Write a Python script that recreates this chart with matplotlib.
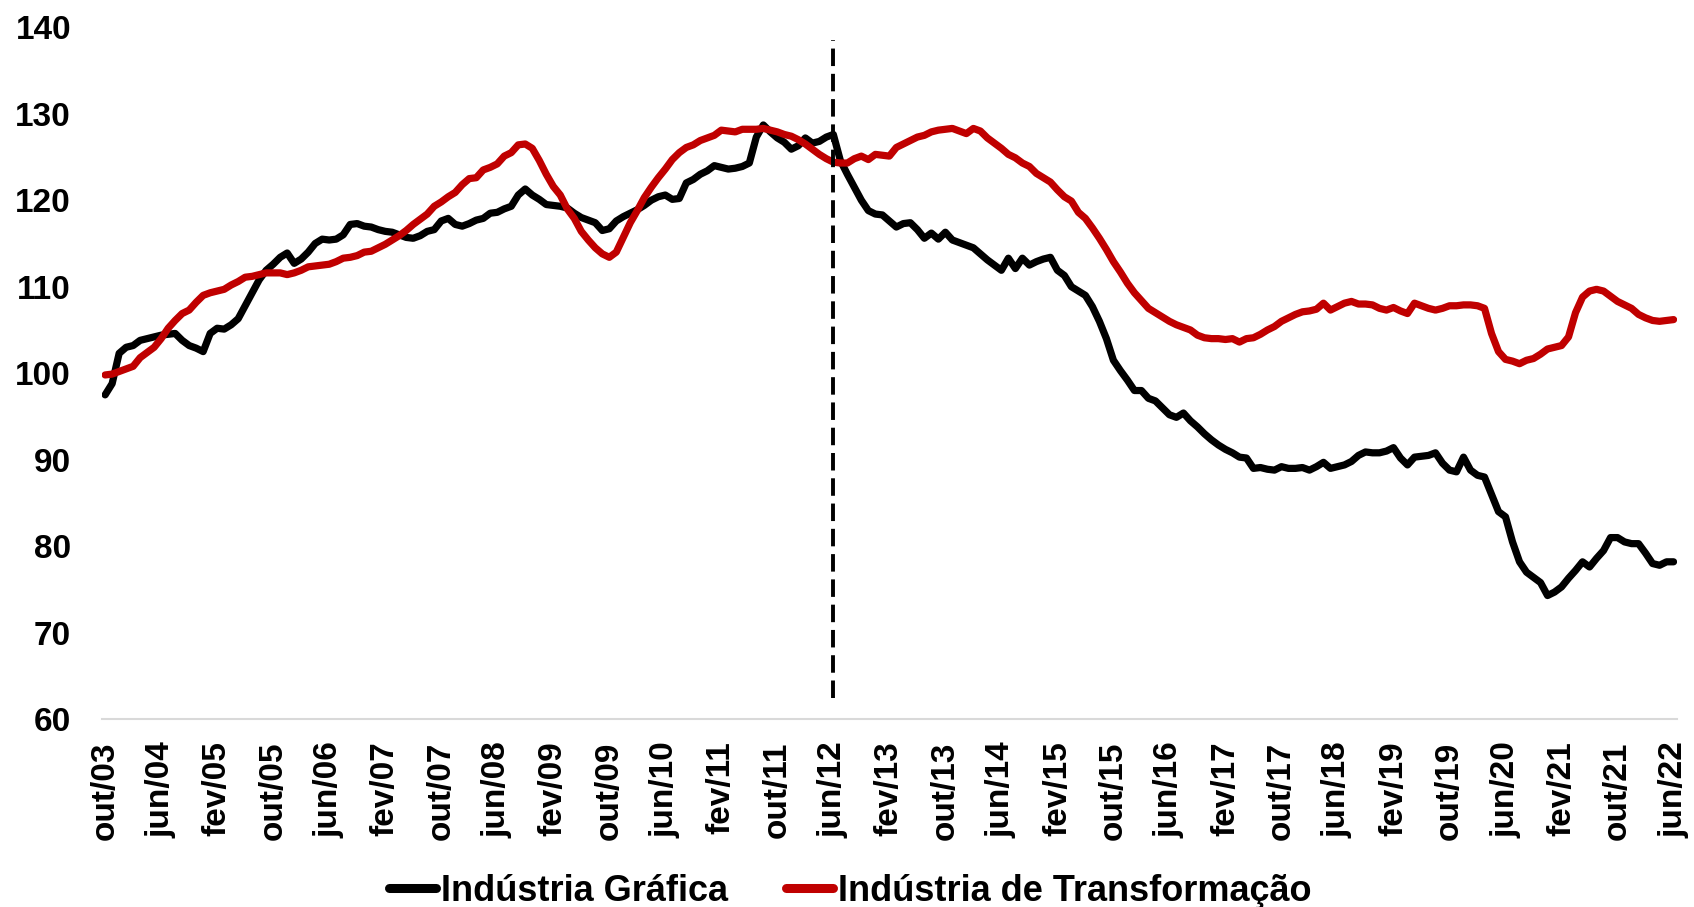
import matplotlib
matplotlib.use("Agg")
import matplotlib.pyplot as plt

plt.rcParams['font.family'] = ['Liberation Sans', 'DejaVu Sans']
plt.rcParams['font.weight'] = 'bold'

# Monthly index, out/2003 to jun/2022
month_names = ['jan', 'fev', 'mar', 'abr', 'mai', 'jun',
               'jul', 'ago', 'set', 'out', 'nov', 'dez']
months = []
for k in range(225):
    m = (9 + k) % 12
    y = 2003 + (9 + k) // 12
    months.append(f"{month_names[m]}/{y % 100:02d}")

grafica = [
    97.5, 98.8, 102.3, 103.0, 103.2, 103.8, 104.0, 104.2, 104.4, 104.5, 104.6, 103.8,
    103.2, 102.9, 102.5, 104.6, 105.2, 105.1, 105.6, 106.3, 107.8, 109.3, 110.8, 111.9,
    112.6, 113.4, 113.9, 112.7, 113.2, 114.0, 115.0, 115.5, 115.4, 115.5, 116.0, 117.2,
    117.3, 117.0, 116.9, 116.6, 116.4, 116.3, 116.0, 115.7, 115.6, 115.9, 116.4, 116.6,
    117.6, 117.9, 117.2, 117.0, 117.3, 117.7, 117.9, 118.5, 118.6, 119.0, 119.3, 120.6,
    121.3, 120.6, 120.1, 119.5, 119.4, 119.3, 119.1, 118.5, 118.0, 117.7, 117.4, 116.5,
    116.7, 117.6, 118.1, 118.5, 118.9, 119.4, 120.0, 120.4, 120.6, 120.1, 120.2, 122.0,
    122.4, 123.0, 123.4, 124.0, 123.8, 123.6, 123.7, 123.9, 124.3, 127.3, 128.7, 127.9,
    127.2, 126.7, 125.9, 126.3, 127.2, 126.6, 126.8, 127.3, 127.6, 124.6, 123.0, 121.5,
    120.0, 118.8, 118.4, 118.3, 117.6, 116.9, 117.3, 117.4, 116.6, 115.6, 116.2, 115.5,
    116.3, 115.4, 115.1, 114.8, 114.5, 113.8, 113.1, 112.5, 111.9, 113.3, 112.1, 113.3,
    112.5, 112.9, 113.2, 113.4, 111.9, 111.3, 110.0, 109.5, 109.0, 107.7, 106.0, 104.0,
    101.5, 100.3, 99.2, 98.0, 98.0, 97.1, 96.8, 96.0, 95.2, 94.9, 95.4, 94.5,
    93.8, 93.0, 92.3, 91.7, 91.2, 90.8, 90.3, 90.2, 89.0, 89.1, 88.9, 88.8,
    89.2, 89.0, 89.0, 89.1, 88.8, 89.2, 89.7, 89.0, 89.2, 89.4, 89.8, 90.5,
    90.9, 90.8, 90.8, 91.0, 91.4, 90.2, 89.4, 90.3, 90.4, 90.5, 90.8, 89.6,
    88.8, 88.6, 90.3, 88.8, 88.2, 88.0, 86.0, 84.0, 83.4, 80.5, 78.2, 77.0,
    76.4, 75.8, 74.3, 74.7, 75.3, 76.3, 77.2, 78.2, 77.6, 78.6, 79.5, 81.0,
    81.0, 80.5, 80.3, 80.3, 79.2, 78.0, 77.8, 78.2, 78.2,
]

transformacao = [
    99.8, 99.9, 100.2, 100.5, 100.8, 101.8, 102.4, 103.0, 104.0, 105.2, 106.1, 106.9,
    107.3, 108.2, 109.0, 109.3, 109.5, 109.7, 110.2, 110.6, 111.1, 111.2, 111.4, 111.6,
    111.6, 111.6, 111.4, 111.6, 111.9, 112.3, 112.4, 112.5, 112.6, 112.9, 113.3, 113.4,
    113.6, 114.0, 114.1, 114.5, 114.9, 115.4, 115.9, 116.5, 117.2, 117.8, 118.4, 119.3,
    119.8, 120.4, 120.9, 121.8, 122.5, 122.6, 123.5, 123.8, 124.2, 125.1, 125.5, 126.4,
    126.5, 126.0, 124.6, 123.0, 121.6, 120.6, 119.0, 117.9, 116.4, 115.4, 114.5, 113.8,
    113.4, 114.0, 115.7, 117.4, 118.8, 120.3, 121.5, 122.6, 123.6, 124.7, 125.5, 126.1,
    126.4, 126.9, 127.2, 127.5, 128.1, 128.0, 127.9, 128.2, 128.2, 128.2, 128.3, 128.1,
    127.9, 127.6, 127.4, 127.0, 126.5, 125.9, 125.3, 124.8, 124.4, 124.3, 124.3, 124.8,
    125.1, 124.7, 125.3, 125.2, 125.1, 126.1, 126.5, 126.9, 127.3, 127.5, 127.9, 128.1,
    128.2, 128.3, 128.0, 127.7, 128.3, 128.0, 127.2, 126.6, 126.0, 125.3, 124.9, 124.3,
    123.9, 123.1, 122.6, 122.1, 121.2, 120.4, 119.9, 118.6, 117.9, 116.8, 115.6, 114.3,
    112.9, 111.7, 110.4, 109.3, 108.4, 107.5, 107.0, 106.5, 106.0, 105.6, 105.3, 105.0,
    104.4, 104.1, 104.0, 104.0, 103.9, 104.0, 103.6, 104.0, 104.1, 104.5, 105.0, 105.4,
    106.0, 106.4, 106.8, 107.1, 107.2, 107.4, 108.1, 107.3, 107.7, 108.1, 108.3, 108.0,
    108.0, 107.9, 107.5, 107.3, 107.6, 107.2, 106.9, 108.1, 107.8, 107.5, 107.3, 107.5,
    107.8, 107.8, 107.9, 107.9, 107.8, 107.5, 104.6, 102.5, 101.6, 101.4, 101.1, 101.5,
    101.7, 102.2, 102.8, 103.0, 103.2, 104.2, 107.0, 108.8, 109.5, 109.7, 109.5, 108.9,
    108.3, 107.9, 107.5, 106.8, 106.4, 106.1, 106.0, 106.1, 106.2,
]

marco = 'jun/12'
y_ticks = [60, 70, 80, 90, 100, 110, 120, 130, 140]

fig = plt.figure(figsize=(16.94, 9.07), dpi=100)
ax = fig.add_axes([0.060, 0.207, 0.930, 0.763])

x = list(range(len(months)))
ax.plot(x, grafica, color='black', lw=5.2, label='Indústria Gráfica',
        solid_joinstyle='round', solid_capstyle='round')
ax.plot(x, transformacao, color='#C00000', lw=5.2, label='Indústria de Transformação',
        solid_joinstyle='round', solid_capstyle='round')

xm = months.index(marco)
ax.vlines(xm, 62.5, 138.5, colors='black', lw=2.8, linestyles=(0, (4.5, 2.0)))

ax.set_xlim(-0.5, len(months) - 0.5)
ax.set_ylim(60, 140)
ax.set_yticks(y_ticks)
ax.set_yticklabels([str(v) for v in y_ticks], fontsize=24, fontweight='bold')
ax.set_xticks(x[::8])
ax.set_xticklabels(months[::8], rotation=90, fontsize=24, fontweight='bold',
                   ha='center', va='top')
ax.tick_params(axis='y', length=0, pad=22)
ax.tick_params(axis='x', length=0, pad=16)

for s in ['top', 'right', 'left']:
    ax.spines[s].set_visible(False)
ax.spines['bottom'].set_color('#D9D9D9')
ax.spines['bottom'].set_linewidth(1.5)

leg = fig.legend(loc='center', bbox_to_anchor=(0.502, 0.017), ncol=2, frameon=False,
                 prop={'size': 26, 'weight': 'bold'}, handlelength=1.3,
                 handletextpad=0.15, columnspacing=1.6)
for h in leg.get_lines():
    h.set_linewidth(6.5)
    h.set_solid_capstyle('round')

fig.savefig('out.png', dpi=100)
